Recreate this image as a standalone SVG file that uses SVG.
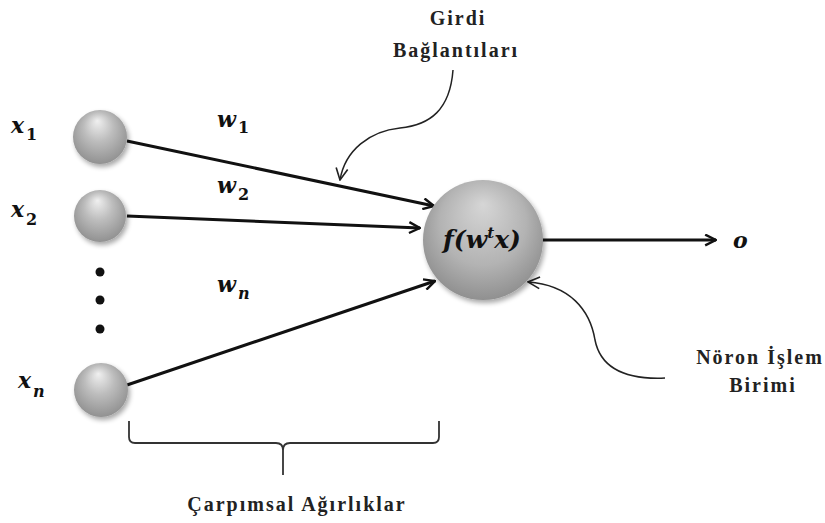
<svg xmlns="http://www.w3.org/2000/svg" width="825" height="523" viewBox="0 0 825 523">
<defs>
<radialGradient id="sph" cx="0.5" cy="0.45" r="0.6" fx="0.45" fy="0.2">
<stop offset="0" stop-color="#f0f0f0"/>
<stop offset="0.45" stop-color="#bdbdbd"/>
<stop offset="1" stop-color="#8c8c8c"/>
</radialGradient>
<radialGradient id="big" cx="0.5" cy="0.45" r="0.6" fx="0.5" fy="0.2">
<stop offset="0" stop-color="#d6d6d6"/>
<stop offset="0.6" stop-color="#b3b3b3"/>
<stop offset="1" stop-color="#8a8a8a"/>
</radialGradient>
<filter id="sh" x="-20%" y="-20%" width="150%" height="150%">
<feGaussianBlur in="SourceAlpha" stdDeviation="2.5"/>
<feOffset dx="2" dy="3" result="b"/>
<feComponentTransfer><feFuncA type="linear" slope="0.35"/></feComponentTransfer>
<feMerge><feMergeNode/><feMergeNode in="SourceGraphic"/></feMerge>
</filter>
<marker id="ah" viewBox="0 0 12 12" refX="11" refY="6" markerWidth="13" markerHeight="13" markerUnits="userSpaceOnUse" orient="auto">
<path d="M1,1 L11,6 L1,11" fill="none" stroke="#111" stroke-width="2.2"/>
</marker>
<marker id="ahs" viewBox="0 0 12 12" refX="11" refY="6" markerWidth="14" markerHeight="14" markerUnits="userSpaceOnUse" orient="auto">
<path d="M1,1 L11,6 L1,11" fill="none" stroke="#222" stroke-width="1.4"/>
</marker>
</defs>
<style>
.lbl{font-weight:bold;font-size:20px;fill:#222;letter-spacing:2px;}
.math{font-style:italic;font-weight:bold;fill:#111;}
.sub{font-weight:bold;fill:#111;font-size:16px;}
.edge{stroke:#111;stroke-width:3;fill:none;}
.curve{stroke:#222;stroke-width:1.5;fill:none;}
</style>
<rect width="825" height="523" fill="#fff"/>
<g id="connectors">
<line class="edge" x1="127" y1="141" x2="434" y2="206" marker-end="url(#ah)"/>
<line class="edge" x1="127" y1="216" x2="420" y2="228" marker-end="url(#ah)"/>
<line class="edge" x1="127" y1="385" x2="435" y2="281" marker-end="url(#ah)"/>
<line class="edge" x1="542" y1="240" x2="716" y2="240" marker-end="url(#ah)"/>
<path class="curve" d="M453,70 C450,110 430,125 400,128 C370,131 345,150 340,180" marker-end="url(#ahs)"/>
<path class="curve" d="M665,378 C620,380 600,365 595,340 C590,310 570,285 528,282" marker-end="url(#ahs)"/>
</g>
<g id="x1" font-family="'DejaVu Serif', 'Liberation Serif', serif">
<circle cx="100" cy="137" r="27" fill="url(#sph)" filter="url(#sh)"/>
<text class="math" x="11" y="133" font-size="22">x</text><text class="sub" x="26" y="140">1</text>
</g>
<g id="x2" font-family="'DejaVu Serif', 'Liberation Serif', serif">
<circle cx="100" cy="216" r="26" fill="url(#sph)" filter="url(#sh)"/>
<text class="math" x="11" y="217" font-size="22">x</text><text class="sub" x="26" y="225">2</text>
</g>
<g id="dots">
<circle cx="100" cy="272" r="4.5" fill="#111"/>
<circle cx="100" cy="300" r="4.5" fill="#111"/>
<circle cx="100" cy="329" r="4.5" fill="#111"/>
</g>
<g id="xn" font-family="'DejaVu Serif', 'Liberation Serif', serif">
<circle cx="101" cy="390" r="27" fill="url(#sph)" filter="url(#sh)"/>
<text class="math" x="18" y="388" font-size="22">x</text><text class="sub" x="33" y="397" font-style="italic">n</text>
</g>
<g id="weights" font-family="'DejaVu Serif', 'Liberation Serif', serif">
<text class="math" x="217" y="127" font-size="22">w</text><text class="sub" x="238" y="133">1</text>
<text class="math" x="217" y="193" font-size="22">w</text><text class="sub" x="238" y="200">2</text>
<text class="math" x="217" y="292" font-size="22">w</text><text class="sub" x="238" y="299" font-style="italic">n</text>
</g>
<g id="neuron" font-family="'DejaVu Serif', 'Liberation Serif', serif">
<circle cx="483" cy="240" r="60" fill="url(#big)" filter="url(#sh)"/>
<text class="math" x="482" y="248" font-size="25" text-anchor="middle">f(w<tspan font-size="15" dy="-10">t</tspan><tspan dy="10">x)</tspan></text>
</g>
<g id="output" font-family="'DejaVu Serif', 'Liberation Serif', serif">
<text class="math" x="733" y="248" font-size="22">o</text>
</g>
<g id="girdi" font-family="'Liberation Serif', 'DejaVu Serif', serif">
<text class="lbl" x="458" y="25" text-anchor="middle">Girdi</text>
<text class="lbl" x="456" y="57" text-anchor="middle">Bağlantıları</text>
</g>
<g id="noron" font-family="'Liberation Serif', 'DejaVu Serif', serif">
<text class="lbl" x="760" y="364" text-anchor="middle" letter-spacing="0.5">Nöron İşlem</text>
<text class="lbl" x="763" y="392" text-anchor="middle">Birimi</text>
</g>
<g id="brace" font-family="'Liberation Serif', 'DejaVu Serif', serif">
<path d="M129,421 L129,437 Q129,443 135,443 L276,443 Q283,443 283,450 L283,475 M283,450 Q283,443 290,443 L433,443 Q439,443 439,437 L439,421" fill="none" stroke="#333" stroke-width="1.8"/>
<text class="lbl" x="297" y="511" text-anchor="middle" font-size="22" letter-spacing="1.8">Çarpımsal Ağırlıklar</text>
</g>
</svg>
